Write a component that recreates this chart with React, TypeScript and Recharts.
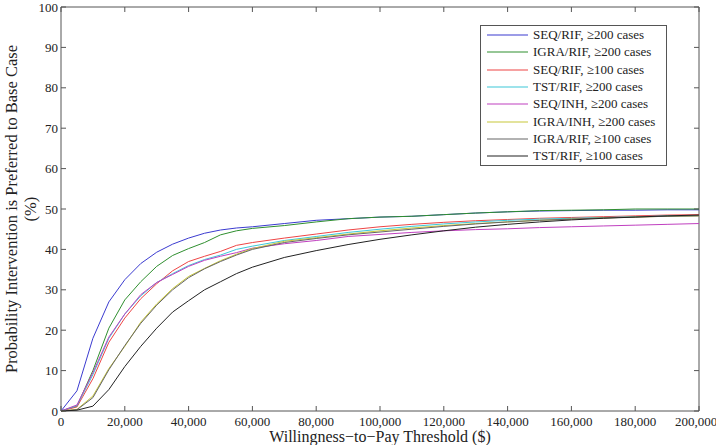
import { LineChart, Line, XAxis, YAxis, ReferenceArea } from 'recharts';

// willingness-to-pay thresholds ($)
const wtp = [
  0, 5000, 10000, 15000, 20000, 25000, 30000, 35000, 40000, 45000, 50000, 55000, 60000,
  70000, 80000, 90000, 100000, 110000, 120000, 130000, 140000, 150000, 160000, 170000, 180000, 190000, 200000,
];

// probability (%) that the intervention is preferred to base case
const seqRif200 = [0, 5, 18, 27, 32.5, 36.5, 39.3, 41.3, 42.8, 44, 44.8, 45.3, 45.6, 46.4, 47.2, 47.6, 48, 48.2, 48.6, 49, 49.3, 49.5, 49.6, 49.7, 49.7, 49.8, 49.8];
const igraRif200 = [0, 1.2, 10, 20.5, 27.5, 32, 35.8, 38.5, 40.2, 41.7, 43.6, 44.6, 45.2, 45.9, 46.8, 47.6, 48, 48.2, 48.6, 49, 49.3, 49.6, 49.7, 49.8, 50, 50, 50];
const seqRif100 = [0, 1, 8, 17, 23, 27.8, 31.5, 34.7, 37, 38.3, 39.5, 41, 41.7, 42.8, 43.8, 44.8, 45.6, 46.2, 46.7, 47.1, 47.4, 47.7, 47.9, 48.1, 48.3, 48.5, 48.6];
const tstRif200 = [0, 1.3, 9, 18, 24, 28.5, 31.8, 34, 36, 37.5, 38.6, 40, 40.8, 42.2, 43.2, 44.2, 45, 45.7, 46.3, 46.8, 47.2, 47.5, 47.7, 47.9, 48.1, 48.3, 48.4];
const seqInh200 = [0, 1.5, 9.5, 18.3, 24, 28.8, 31.8, 33.8, 35.8, 37.3, 38.3, 39.2, 40.3, 41.4, 42.2, 43.2, 43.7, 44.2, 44.6, 44.9, 45.1, 45.4, 45.6, 45.8, 46, 46.2, 46.4];
const igraInh200 = [0, 0.4, 3.7, 10.5, 16, 22, 26.5, 30.3, 33.3, 35.3, 37.2, 38.8, 40.2, 42, 42.9, 43.8, 44.6, 45.3, 45.9, 46.4, 46.8, 47.2, 47.5, 47.8, 48, 48.2, 48.3];
const igraRif100 = [0, 0.3, 3.3, 10.2, 16.2, 21.7, 26.2, 30, 33, 35.2, 37, 38.6, 40, 41.7, 42.7, 43.6, 44.3, 45, 45.7, 46.3, 46.8, 47.2, 47.5, 47.8, 48, 48.2, 48.3];
const tstRif100 = [0, 0.2, 1.2, 5.3, 11, 16, 20.5, 24.5, 27.3, 30, 32, 34, 35.6, 38, 39.7, 41.2, 42.5, 43.6, 44.6, 45.5, 46.2, 46.8, 47.3, 47.7, 48, 48.3, 48.5];

const seriesNames = [
  'SEQ/RIF, ≥200 cases',
  'IGRA/RIF, ≥200 cases',
  'SEQ/RIF, ≥100 cases',
  'TST/RIF, ≥200 cases',
  'SEQ/INH, ≥200 cases',
  'IGRA/INH, ≥200 cases',
  'IGRA/RIF, ≥100 cases',
  'TST/RIF, ≥100 cases',
];
const seriesValues = [seqRif200, igraRif200, seqRif100, tstRif200, seqInh200, igraInh200, igraRif100, tstRif100];
const seriesColors = ['#3b3bd0', '#2f8f2f', '#ee4545', '#3cc8d8', '#c040c0', '#c8c83a', '#666666', '#222222'];

const xTicks = [0, 20000, 40000, 60000, 80000, 100000, 120000, 140000, 160000, 180000, 200000];
const yTicks = [0, 10, 20, 30, 40, 50, 60, 70, 80, 90, 100];

const data = wtp.map((w, i) => {
  const row: any = { wtp: w };
  seriesValues.forEach((s, k) => { row['s' + k] = s[i]; });
  return row;
});

const W = 716;
const H = 445;
const margin = { top: 7, right: 17, bottom: 4, left: 11 };
const Y_AXIS_W = 50;
const X_AXIS_H = 30;
const plotTop = margin.top;
const plotBottom = H - margin.bottom - X_AXIS_H;
const plotLeft = margin.left + Y_AXIS_W;
const plotRight = W - margin.right;
const axisColor = '#555';
const font = '"Liberation Serif", "Times New Roman", serif';

function XTick({ x, payload }: any) {
  // keep the last label inside the page, as in the reference
  const tx = Math.min(x, W - 20);
  return (
    <g>
      <line x1={x} x2={x} y1={plotBottom} y2={plotBottom - 5} stroke={axisColor} />
      <line x1={x} x2={x} y1={plotTop} y2={plotTop + 5} stroke={axisColor} />
      <text x={tx} y={plotBottom + 15} textAnchor="middle" fontSize={13} fontFamily={font} fill="#222">
        {payload.value.toLocaleString('en-US')}
      </text>
    </g>
  );
}

function YTick({ y, payload }: any) {
  return (
    <g>
      <line x1={plotLeft} x2={plotLeft + 5} y1={y} y2={y} stroke={axisColor} />
      <line x1={plotRight} x2={plotRight - 5} y1={y} y2={y} stroke={axisColor} />
      <text x={plotLeft - 3} y={y + 4.5} textAnchor="end" fontSize={13} fontFamily={font} fill="#222">
        {payload.value}
      </text>
    </g>
  );
}

function YLabel() {
  const cy = (plotTop + plotBottom) / 2;
  return (
    <g fontFamily={font} fontSize={16.5} fill="#222">
      <text x={17} y={cy} textAnchor="middle" transform={`rotate(-90, 17, ${cy})`}>
        Probability Intervention is Preferred to Base Case
      </text>
      <text x={36} y={cy} textAnchor="middle" transform={`rotate(-90, 36, ${cy})`}>
        (%)
      </text>
    </g>
  );
}

function XLabel() {
  const cx = (plotLeft + plotRight) / 2;
  return (
    <text x={cx} y={442} textAnchor="middle" fontFamily={font} fontSize={16} fill="#222">
      Willingness−to−Pay Threshold ($)
    </text>
  );
}

function LegendBox() {
  return (
    <div
      style={{
        position: 'absolute', left: 480, top: 25, width: 187, height: 141, boxSizing: 'border-box',
        border: `1px solid ${axisColor}`, background: '#fff', paddingTop: 0.5,
        fontFamily: font, fontSize: 13, color: '#222',
      }}
    >
      {seriesNames.map((name, k) => (
        <div key={name} style={{ height: 17.3, display: 'flex', alignItems: 'center' }}>
          <svg width={47} height={4} style={{ marginLeft: 6, display: 'block' }}>
            <line x1={0} x2={41} y1={2} y2={2} stroke={seriesColors[k]} strokeWidth={1.2} />
          </svg>
          <span style={{ marginLeft: -1, whiteSpace: 'nowrap' }}>{name}</span>
        </div>
      ))}
    </div>
  );
}

export default function App() {
  return (
    <div style={{ position: 'absolute', left: 0, top: 0, width: W, height: H, background: '#fff' }}>
      <LineChart width={W} height={H} data={data} margin={margin}>
        <ReferenceArea x1={0} x2={200000} y1={0} y2={100} fill="none" stroke={axisColor} strokeWidth={1} />
        <XAxis
          dataKey="wtp" type="number" domain={[0, 200000]} ticks={xTicks} height={X_AXIS_H}
          axisLine={false} tickLine={false} tick={<XTick />} interval={0}
          label={{ content: <XLabel /> }}
        />
        <YAxis
          type="number" domain={[0, 100]} ticks={yTicks} width={Y_AXIS_W}
          axisLine={false} tickLine={false} tick={<YTick />} interval={0}
          label={{ content: <YLabel /> }}
        />
        {seriesNames.map((name, k) => (
          <Line
            key={name} dataKey={'s' + k} name={name} type="linear" stroke={seriesColors[k]}
            strokeWidth={1} dot={false} isAnimationActive={false}
          />
        ))}
      </LineChart>
      <LegendBox />
    </div>
  );
}
